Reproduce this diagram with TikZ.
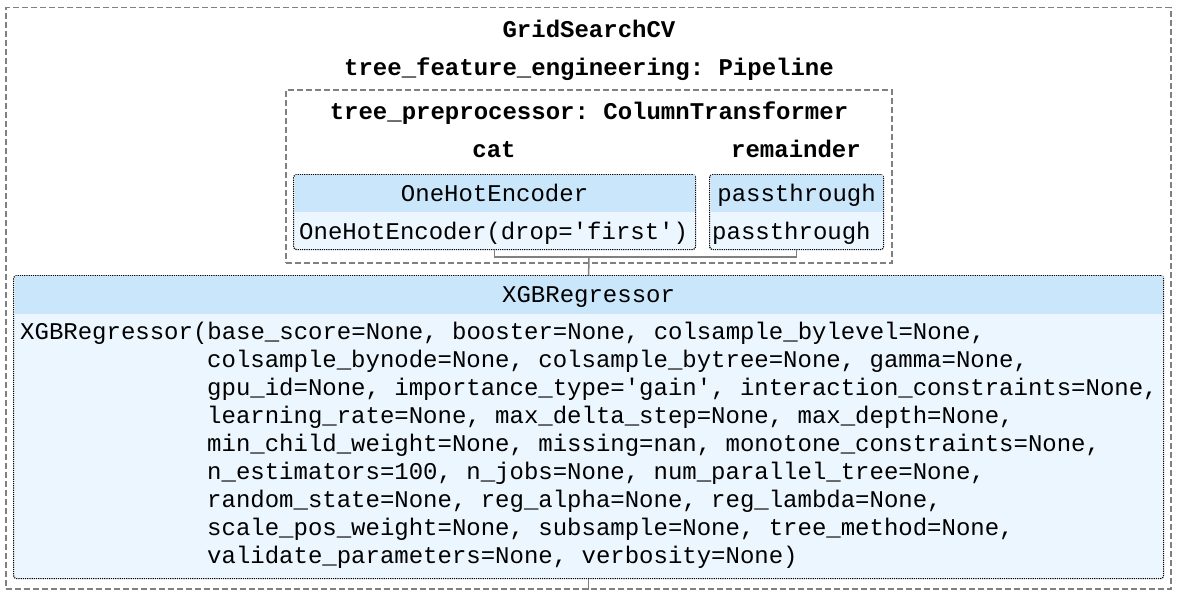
\documentclass[tikz,border=0pt]{standalone}
\usepackage{fontspec}
\setmonofont{Liberation Mono}

\definecolor{hdrblue}{RGB}{201,230,251}
\definecolor{bodyblue}{RGB}{236,246,254}
\definecolor{lingray}{RGB}{128,128,128}

\tikzset{
  code/.style={font=\ttfamily\fontsize{24}{28}\selectfont, inner sep=0pt},
  bcode/.style={font=\ttfamily\bfseries\fontsize{24}{28}\selectfont, inner sep=0pt},
  metabox/.style={draw=lingray, line width=1.5pt, dash pattern=on 6pt off 3pt, inner sep=0pt, anchor=north west},
  estbox/.style={draw=black, line width=1.2pt, densely dotted, fill=bodyblue, rounded corners=3pt, inner sep=0pt, anchor=north west},
  hdr/.style={code, fill=hdrblue, anchor=north, text height=15pt, text depth=0pt},
  conn/.style={draw=lingray, line width=1.5pt},
}

\begin{document}
\begin{tikzpicture}[x=1pt,y=-1pt]
\useasboundingbox (0,0) rectangle (1178,594);

% outer containers
\node[metabox, minimum width=1165pt, minimum height=581pt] (grid) at (5,7) {};
\node[metabox, minimum width=606pt, minimum height=173pt] (ct) at (285,89) {};
\node[bcode, anchor=base] (gridlbl) at (589,38) {GridSearchCV};
\node[bcode, anchor=base] (pipelbl) at (589,76) {tree\_feature\_engineering: Pipeline};
\node[bcode, anchor=base] (ctlbl) at (589,119) {tree\_preprocessor: ColumnTransformer};
\node[bcode, anchor=base] (catlbl) at (494,157) {cat};
\node[bcode, anchor=base] (remlbl) at (796,157) {remainder};

% estimators
\node[estbox, minimum width=402pt, minimum height=75pt] (ohe) at (293,174) {};
\node[hdr, minimum width=400pt, minimum height=37pt] (ohehdr) at ([yshift=-1pt]ohe.north) {OneHotEncoder};
\node[code, anchor=base west] (ohebody) at (299,239) {OneHotEncoder(drop=\textquotesingle first\textquotesingle)};

\node[estbox, minimum width=174pt, minimum height=75pt] (pass) at (709,174) {};
\node[hdr, minimum width=172pt, minimum height=37pt] (passhdr) at ([yshift=-1pt]pass.north) {passthrough};
\node[code, anchor=base west] (passbody) at (712,239) {passthrough};

\node[estbox, minimum width=1150pt, minimum height=303pt] (xgb) at (13,275) {};
\node[hdr, minimum width=1148pt, minimum height=38pt] (xgbhdr) at ([yshift=-1pt]xgb.north) {XGBRegressor};
\node[code, anchor=base west] (xgb0) at (20,339) {XGBRegressor(base\_score=None, booster=None, colsample\_bylevel=None,};
\foreach \txt [count=\i] in {
  {colsample\_bynode=None, colsample\_bytree=None, gamma=None,},
  {gpu\_id=None, importance\_type=\textquotesingle gain\textquotesingle, interaction\_constraints=None,},
  {learning\_rate=None, max\_delta\_step=None, max\_depth=None,},
  {min\_child\_weight=None, missing=nan, monotone\_constraints=None,},
  {n\_estimators=100, n\_jobs=None, num\_parallel\_tree=None,},
  {random\_state=None, reg\_alpha=None, reg\_lambda=None,},
  {scale\_pos\_weight=None, subsample=None, tree\_method=None,},
  {validate\_parameters=None, verbosity=None)}}
  \node[code, anchor=base west] (xgb\i) at (207,339+28*\i) {\txt};

% connectors
\coordinate (join) at (589,257);
\draw[conn] (ohe.south) |- (join) -| (pass.south);
\draw[conn] (join) -- (xgb.north);
\draw[conn] (xgb.south) -- (xgb.south |- grid.south);
\end{tikzpicture}
\end{document}
